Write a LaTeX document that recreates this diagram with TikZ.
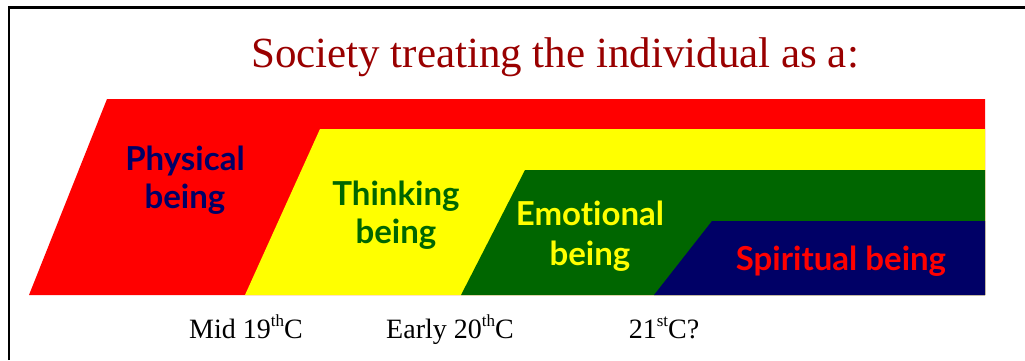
\documentclass[tikz,border=0pt]{standalone}
\usepackage{fontspec}
\setmainfont{Liberation Serif}
\newfontfamily\labelfont{Lato}[BoldFont={* Bold},Ligatures=NoCommon]
\definecolor{bandred}{RGB}{255,0,0}
\definecolor{bandyellow}{RGB}{255,255,0}
\definecolor{bandgreen}{RGB}{0,102,0}
\definecolor{bandnavy}{RGB}{0,0,102}
\definecolor{titlered}{RGB}{153,0,0}
\newcommand{\ordsup}[1]{\raisebox{0.40em}{\fontsize{17}{19}\selectfont #1}}
\begin{document}
\begin{tikzpicture}[x=1pt,y=-1pt,
  band/.style={draw=none},
  beinglabel/.style={anchor=base,inner sep=0pt,font=\labelfont\bfseries\fontsize{33}{38}\selectfont},
  eralabel/.style={anchor=base,inner sep=0pt,font=\fontsize{28}{32}\selectfont},
  frameline/.style={line width=2.5pt,black}]
\useasboundingbox (0,0) rectangle (1025,360);
% frame: top and left edges only
\draw[frameline] (9,360) -- (9,7.5) -- (1025,7.5);
% title
\node[anchor=base,inner sep=0pt,text=titlered,font=\fontsize{43}{50}\selectfont] (title) at (555,67) {Society treating the individual as a:};
% nested bands, each starting later in time
\fill[band,bandred]    (29,295) -- (107,99)  -- (985,99)  -- (985,295) -- cycle;
\fill[band,bandyellow] (245,295) -- (320,129) -- (985,129) -- (985,295) -- cycle;
\fill[band,bandgreen]  (461,295) -- (525,170) -- (985,170) -- (985,295) -- cycle;
\fill[band,bandnavy]   (654,295) -- (712,221) -- (985,221) -- (985,295) -- cycle;
% band labels
\node[beinglabel,text=bandnavy] (phys1) at (185,170) {Physical};
\node[beinglabel,text=bandnavy] (phys2) at (185,208) {being};
\node[beinglabel,text=bandgreen] (think1) at (396,205) {Thinking};
\node[beinglabel,text=bandgreen] (think2) at (396,243) {being};
\node[beinglabel,text=bandyellow] (emo1) at (590,225) {Emotional};
\node[beinglabel,text=bandyellow] (emo2) at (590,265) {being};
\node[beinglabel,text=bandred] (spirit) at (841,270) {Spiritual being};
% era labels
\node[eralabel] (era1) at (246,338) {Mid 19\ordsup{th}C};
\node[eralabel] (era2) at (450,338) {Early 20\ordsup{th}C};
\node[eralabel] (era3) at (664,338) {21\ordsup{st}C?};
\end{tikzpicture}
\end{document}
